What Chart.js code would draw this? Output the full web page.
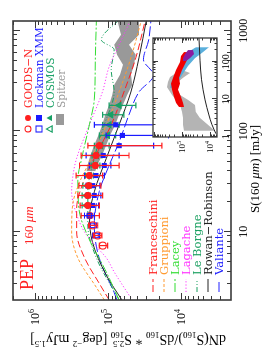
<!DOCTYPE html>
<html>
<head>
<meta charset="utf-8">
<script src="https://cdn.jsdelivr.net/npm/chart.js@4.4.0/dist/chart.umd.min.js"></script>
<style>
  html, body { margin: 0; padding: 0; background: #fff; }
  #wrap { position: relative; width: 264px; height: 353px; overflow: hidden; background: #fff; }
  /* the whole figure is drawn upright, then turned a quarter turn */
  #rot { position: absolute; left: 0; top: 0; width: 353px; height: 264px;
         transform-origin: 0 0; transform: translate(0, 353px) rotate(-90deg); }
  #main { position: absolute; left: 0; top: 0; }
  #inset { position: absolute; left: 185px; top: 145px; }
</style>
</head>
<body>
<div id="wrap"><div id="rot">
  <canvas id="main" width="353" height="264"></canvas>
  <canvas id="inset" width="145" height="92"></canvas>
</div></div>
<script>
// ---------- main panel data: S160 [mJy], Euclidean-normalised counts ----------
const goodsFaintS  = [7.3, 9.2, 11.6];
const goodsFaintN  = [1.19e5, 1.39e5, 1.63e5];
const goodsFaintLo = [1.02e5, 1.22e5, 1.39e5];
const goodsFaintHi = [1.32e5, 1.60e5, 1.85e5];

const lockFaintS  = [9.2, 11.6, 14.5];
const lockFaintN  = [1.47e5, 1.63e5, 1.81e5];
const lockFaintLo = [1.32e5, 1.44e5, 1.55e5];
const lockFaintHi = [1.63e5, 1.81e5, 2.11e5];

const goodsS  = [14.5, 18.3, 23, 28.8, 36.3, 45.7, 57.5, 72];
const goodsN  = [1.77e5, 1.90e5, 1.90e5, 1.85e5, 1.81e5, 1.50e5, 1.47e5, 1.32e5];
const goodsLo = [1.32e5, 1.32e5, 1.19e5, 1.26e5, 1.19e5, 7.1e4, 5.2e4, 1.85e4];
const goodsHi = [2.34e5, 2.42e5, 2.59e5, 2.52e5, 2.74e5, 2.47e5, 2.34e5, 1.90e5];

const lockS  = [18.3, 23, 28.8, 36.3, 45.7, 57.5, 72, 91, 116];
const lockN  = [1.63e5, 1.55e5, 1.63e5, 1.47e5, 1.13e5, 1.17e5, 7.1e4, 6.4e4, 7.9e4];
const lockLo = [1.35e5, 1.26e5, 1.30e5, 1.13e5, 9.2e4, 7.1e4, 2.4e4, 1.5e4, 1.5e4];
const lockHi = [1.90e5, 2.00e5, 2.00e5, 2.11e5, 1.81e5, 2.00e5, 1.32e5, 1.07e5, 1.55e5];

const cosmosS  = [18.3, 23, 28.8, 36.3, 45.7, 57.5, 72, 91, 116, 146, 181];
const cosmosN  = [2.00e5, 2.00e5, 1.94e5, 1.81e5, 1.50e5, 1.44e5, 1.26e5, 1.02e5, 9.7e4, 9.2e4, 7.1e4];
const cosmosLo = [1.77e5, 1.77e5, 1.71e5, 1.60e5, 1.30e5, 1.22e5, 9.7e4, 7.9e4, 7.1e4, 6.1e4, 4.2e4];
const cosmosHi = [2.27e5, 2.27e5, 2.22e5, 2.05e5, 1.71e5, 1.66e5, 1.55e5, 1.32e5, 1.19e5, 1.19e5, 9.7e4];

const spitzerS  = [40, 46, 58, 73, 92, 116, 146, 184, 231, 290, 365, 459, 577, 726, 912, 1300];
const spitzerHi = [1.98e5, 1.92e5, 1.75e5, 1.55e5, 1.36e5, 1.21e5, 1.10e5, 9.7e4, 8.8e4, 8.3e4, 6.9e4, 6.3e4, 7.6e4, 8.3e4, 6.7e4, 7.6e4];
const spitzerLo = [1.50e5, 1.41e5, 1.21e5, 1.06e5, 9.4e4, 8.0e4, 7.1e4, 6.3e4, 5.5e4, 4.7e4, 4.9e4, 4.45e4, 4.2e4, 5.2e4, 3.8e4, 3.8e4];

// models
const franS = [2.1, 3, 5.5, 10, 17, 31, 54, 116, 246, 537, 1290];
const franN = [9.7e4, 1.3e5, 2.1e5, 2.7e5, 2.7e5, 2.2e5, 1.55e5, 9.1e4, 6.1e4, 4.2e4, 3.1e4];
const grupS = [2.1, 2.8, 5.5, 10, 18.6, 31, 54, 116, 246, 537, 1290];
const grupN = [1.13e5, 1.45e5, 2.6e5, 3.16e5, 3.06e5, 2.47e5, 1.7e5, 1.06e5, 7.1e4, 4.9e4, 3.5e4];
const lacS  = [2.1, 4.2, 8.3, 16.5, 33, 54, 116, 206, 515, 1290];
const lacN  = [7.1e4, 1.1e5, 1.8e5, 2.5e5, 2.6e5, 2.3e5, 1.81e5, 1.55e5, 1.5e5, 1.45e5];
const lagS  = [2.2, 4, 5.5, 7.5, 10, 16, 25, 40, 54, 116, 246, 440, 726, 1290];
const lagN  = [4.9e4, 8.3e4, 1.06e5, 1.55e5, 2.11e5, 2.79e5, 3.16e5, 2.97e5, 2.7e5, 1.81e5, 1.2e5, 9.7e4, 7.1e4, 4.9e4];
const lebS  = [2.1, 5.5, 11.7, 25, 54, 116, 246, 410, 650, 810, 1290];
const lebN  = [7.1e4, 1.45e5, 1.9e5, 1.9e5, 1.55e5, 1.13e5, 8.3e4, 9.1e4, 8.3e4, 1.24e5, 7.1e4];
const rrS   = [2.1, 3.7, 8, 13.8, 25, 54, 116, 246, 537, 1290];
const rrN   = [6.5e4, 1.06e5, 1.65e5, 1.8e5, 1.55e5, 1.06e5, 7.1e4, 4.9e4, 3.8e4, 3.0e4];
const valS  = [2.1, 2.5, 5.5, 11.7, 25, 46, 78, 146, 246, 363, 515, 810, 1290];
const valN  = [7.6e4, 8.3e4, 1.33e5, 1.55e5, 1.33e5, 9.7e4, 7.1e4, 5.2e4, 3.8e4, 2.4e4, 3.3e4, 2.8e4, 2.6e4];

const xTicks = [10, 100, 1000];
const yTicks = [1e4, 1e5, 1e6];

// ---------- inset data ----------
const insGrayS  = [1.43, 2.07, 3.2, 4.6, 7, 9.6, 13, 21, 29, 39, 50, 60];
const insGrayHi = [8.5e4, 9.2e4, 9.2e4, 1.0e5, 1.18e5, 1.64e5, 2.28e5, 3.43e5, 3.16e5, 2.68e5, 1.64e5, 1.39e5];
const insGrayLo = [6.6e3, 1.18e4, 2.3e4, 3.2e4, 3.4e4, 6.1e4, 1.18e5, 1.64e5, 1.39e5, 8.5e4, 5.2e4, 1.0e5];
const insBlueS  = [20, 27, 44, 77, 125, 181, 245];
const insBlueHi = [2.68e5, 2.47e5, 1.78e5, 1.28e5, 9.2e4, 6.1e4, 3.16e4];
const insBlueLo = [1.93e5, 1.5e5, 1.0e5, 6.1e4, 3.4e4, 1.78e4, 1.08e4];
const insRedS   = [6.2, 8, 11.5, 18, 26, 37, 60, 98, 142, 181];
const insRedHi  = [1.28e5, 1.64e5, 1.93e5, 2.28e5, 2.47e5, 2.1e5, 1.64e5, 1.18e5, 1.09e5, 8.5e4];
const insRedLo  = [8.5e4, 9.2e4, 1.09e5, 1.39e5, 1.18e5, 1.28e5, 1.0e5, 7.2e4, 5.6e4, 6.1e4];
const insPurpS  = [104, 125, 160, 205];
const insPurpHi = [9.2e4, 9.2e4, 7.8e4, 6.1e4];
const insPurpLo = [7.2e4, 5.2e4, 3.7e4, 4.05e4];
const insCurveS = [1.2, 2.1, 3.8, 9.6, 33, 110, 430];
const insCurveN = [6.1e3, 8.5e3, 1.09e4, 1.5e4, 2.0e4, 2.27e4, 2.47e4];

const insXTicks = [1, 10, 100];
const insYTicks = [1e4, 1e5];

// ---------- legend text ----------
const surveyNames  = ['GOODS\u2212N', 'Lockman XMM', 'COSMOS', 'Spitzer'];
const surveyColors = ['#ff1f1f', '#1a1aff', '#17a065', '#9a9a9a'];
const surveyShapes = ['circle', 'rect', 'triangle', null];
const modelNames  = ['Franceschini', 'Gruppioni', 'Lacey', 'Lagache', 'Le Borgne', 'Rowan\u2212Robinson', 'Valiante'];
const modelColors = ['#ff2020', '#ff9a30', '#33dd33', '#ff33ff', '#1aa060', '#222222', '#2020ff'];
const modelDashes = [[7, 3], [3, 2], [9, 2, 2, 2], [1.2, 2], [5, 2, 1, 2, 1, 2], [], [10, 3]];

const FRAME = '#3a3a3a';
const pts = (s, n) => s.map((v, i) => ({ x: v, y: n[i] }));

function logTicks(min, max) {
  const out = [];
  for (let e = Math.floor(Math.log10(min)); e <= Math.ceil(Math.log10(max)); e++) {
    for (let m = 1; m < 10; m++) {
      const v = m * Math.pow(10, e);
      if (v >= min * 0.999 && v <= max * 1.001) out.push([v, m === 1]);
    }
  }
  return out;
}

function drawFrame(chart, major, minor, lw) {
  const { ctx, chartArea: a, scales: { x, y } } = chart;
  ctx.save();
  ctx.strokeStyle = FRAME;
  ctx.lineWidth = 1;
  ctx.beginPath();
  for (const [v, big] of logTicks(x.min, x.max)) {
    const px = Math.round(x.getPixelForValue(v)) + 0.5;
    const l = big ? major : minor;
    ctx.moveTo(px, a.bottom); ctx.lineTo(px, a.bottom - l);
    ctx.moveTo(px, a.top); ctx.lineTo(px, a.top + l);
  }
  for (const [v, big] of logTicks(y.min, y.max)) {
    const py = Math.round(y.getPixelForValue(v)) + 0.5;
    const l = big ? major : minor;
    ctx.moveTo(a.left, py); ctx.lineTo(a.left + l, py);
    ctx.moveTo(a.right, py); ctx.lineTo(a.right - l, py);
  }
  ctx.stroke();
  ctx.lineWidth = lw;
  ctx.strokeRect(a.left, a.top, a.right - a.left, a.bottom - a.top);
  ctx.restore();
}

// rich text: pieces with size, baseline shift, italic, and stacked sub/sup
const fontOf = p => `${p.it ? 'italic ' : ''}${p.s}px "Liberation Serif"`;
function richWidth(ctx, parts) {
  let w = 0, hold = 0;
  for (const p of parts) {
    ctx.font = fontOf(p);
    const pw = ctx.measureText(p.t).width;
    if (p.stack) { hold = pw; continue; }
    w += Math.max(pw, hold); hold = 0;
  }
  return w;
}
function drawRich(ctx, parts, x, y) {
  let cx = x, hold = 0;
  for (const p of parts) {
    ctx.font = fontOf(p);
    const pw = ctx.measureText(p.t).width;
    ctx.fillText(p.t, cx, y + (p.dy || 0));
    if (p.stack) { hold = pw; continue; }
    cx += Math.max(pw, hold); hold = 0;
  }
}
function powLabel(ctx, v, x, y, base, sup, align) {
  const parts = [{ t: '10', s: base }, { t: String(Math.round(Math.log10(v))), s: sup, dy: -base * 0.42 }];
  const w = richWidth(ctx, parts);
  drawRich(ctx, parts, align === 'right' ? x - w : x - w / 2, y);
}

function marker(ctx, shape, x, y, r, color, filled) {
  ctx.save();
  ctx.strokeStyle = color; ctx.fillStyle = color; ctx.lineWidth = 1.1;
  ctx.beginPath();
  if (shape === 'circle') ctx.arc(x, y, r, 0, Math.PI * 2);
  else if (shape === 'rect') ctx.rect(x - r, y - r, 2 * r, 2 * r);
  else { ctx.moveTo(x, y - r * 1.2); ctx.lineTo(x + r * 1.05, y + r * 0.7); ctx.lineTo(x - r * 1.05, y + r * 0.7); ctx.closePath(); }
  filled ? ctx.fill() : ctx.stroke();
  ctx.restore();
}

// error bars drawn just before each point set, so markers sit on top
const errorBars = {
  id: 'errorBars',
  beforeDatasetDraw(chart, args) {
    const ds = chart.data.datasets[args.index];
    if (!ds.errLo) return;
    const { ctx, chartArea: a, scales: { x, y } } = chart;
    ctx.save();
    ctx.beginPath(); ctx.rect(a.left, a.top, a.right - a.left, a.bottom - a.top); ctx.clip();
    ctx.strokeStyle = ds.borderColor; ctx.lineWidth = 1.2;
    ctx.beginPath();
    ds.data.forEach((p, i) => {
      const px = x.getPixelForValue(p.x);
      const y1 = y.getPixelForValue(ds.errLo[i]), y2 = y.getPixelForValue(ds.errHi[i]);
      ctx.moveTo(px, y1); ctx.lineTo(px, y2);
      ctx.moveTo(px - 3, y1); ctx.lineTo(px + 3, y1);
      ctx.moveTo(px - 3, y2); ctx.lineTo(px + 3, y2);
    });
    ctx.stroke();
    ctx.restore();
  }
};

const mainDecor = {
  id: 'mainDecor',
  afterDraw(chart) {
    const { ctx, chartArea: a, scales: { x, y } } = chart;
    drawFrame(chart, 7, 4, 1.6);
    ctx.save();
    ctx.fillStyle = '#000';
    ctx.textBaseline = 'alphabetic';
    ctx.font = '12px "Liberation Serif"';
    ctx.textAlign = 'center';
    xTicks.forEach(v => ctx.fillText(String(v), x.getPixelForValue(v), a.bottom + 16));
    ctx.textAlign = 'left';
    yTicks.forEach(v => powLabel(ctx, v, a.left - 9, y.getPixelForValue(v) + 4, 12, 8, 'right'));

    // axis titles
    const xt = [{ t: 'S(160 ', s: 13 }, { t: '\u03bcm', s: 13, it: true }, { t: ') [mJy]', s: 13 }];
    drawRich(ctx, xt, 184 - richWidth(ctx, xt) / 2, 259);
    const yt = [
      { t: 'dN(S', s: 14 }, { t: '160', s: 9, dy: 3 }, { t: ')/dS', s: 14 }, { t: '160', s: 9, dy: 3 },
      { t: ' * S', s: 14 }, { t: '2.5', s: 9, dy: -6, stack: true }, { t: '160', s: 9, dy: 3 },
      { t: ' [deg', s: 14 }, { t: '\u22122', s: 9, dy: -6 }, { t: ' mJy', s: 14 }, { t: '1.5', s: 9, dy: -6 }, { t: ']', s: 14 }
    ];
    ctx.save();
    ctx.translate(18, 128);
    ctx.rotate(-Math.PI / 2);
    drawRich(ctx, yt, -richWidth(ctx, yt) / 2, 0);
    ctx.restore();

    // PEP label
    ctx.fillStyle = '#ff2020';
    drawRich(ctx, [{ t: 'PEP', s: 18 }], 63, 33);
    drawRich(ctx, [{ t: '160 ', s: 13 }, { t: '\u03bcm', s: 13, it: true }], 108, 33);

    // survey legend
    surveyNames.forEach((name, i) => {
      const bl = 32 + 11 * i, c = surveyColors[i];
      if (surveyShapes[i]) {
        marker(ctx, surveyShapes[i], 224, bl - 4, 3, c, false);
        marker(ctx, surveyShapes[i], 235, bl - 4, 3, c, true);
      } else {
        ctx.fillStyle = c;
        ctx.fillRect(228, bl - 9, 11, 8);
      }
      ctx.fillStyle = c;
      ctx.font = '10.5px "DejaVu Serif"';
      ctx.fillText(name, 245, bl);
    });

    // model legend
    modelNames.forEach((name, i) => {
      const bl = 157 + 11 * i;
      ctx.strokeStyle = modelColors[i]; ctx.lineWidth = 1;
      ctx.setLineDash(modelDashes[i]);
      ctx.beginPath(); ctx.moveTo(61, bl - 4); ctx.lineTo(74, bl - 4); ctx.stroke();
      ctx.setLineDash([]);
      ctx.fillStyle = modelColors[i];
      ctx.font = '11.5px "DejaVu Serif"';
      ctx.fillText(name, 78, bl);
    });
    ctx.restore();
  }
};

const model = (s, n, i) => ({
  data: pts(s, n), borderColor: modelColors[i], borderWidth: 1, borderDash: modelDashes[i],
  pointRadius: 0, fill: false, cubicInterpolationMode: 'monotone', order: 5
});
const points = (s, n, lo, hi, color, style, filled, r) => ({
  data: pts(s, n), errLo: lo, errHi: hi, showLine: false, borderColor: color,
  pointStyle: style, pointRadius: r, pointBorderWidth: 1.1, pointBorderColor: color,
  pointBackgroundColor: filled ? color : 'rgba(0,0,0,0)', order: 0
});

new Chart(document.getElementById('main'), {
  type: 'line',
  data: {
    datasets: [
      { data: pts(spitzerS, spitzerHi), borderColor: 'transparent', borderWidth: 0, pointRadius: 0, fill: false, order: 10 },
      { data: pts(spitzerS, spitzerLo), borderColor: 'transparent', borderWidth: 0, pointRadius: 0, fill: '-1', backgroundColor: '#999999', order: 10 },
      model(franS, franN, 0), model(grupS, grupN, 1), model(lacS, lacN, 2), model(lagS, lagN, 3),
      model(lebS, lebN, 4), model(rrS, rrN, 5), model(valS, valN, 6),
      points(goodsFaintS, goodsFaintN, goodsFaintLo, goodsFaintHi, '#ff1f1f', 'circle', false, 3.5),
      points(lockFaintS, lockFaintN, lockFaintLo, lockFaintHi, '#1a1aff', 'rect', false, 3.2),
      points(goodsS, goodsN, goodsLo, goodsHi, '#ff1f1f', 'circle', true, 3),
      points(lockS, lockN, lockLo, lockHi, '#1a1aff', 'rect', true, 2.8),
      points(cosmosS, cosmosN, cosmosLo, cosmosHi, '#17a065', 'triangle', true, 3.5)
    ]
  },
  options: {
    responsive: false,
    animation: false,
    layout: { padding: { left: 0, top: 13, right: 21, bottom: 0 } },
    plugins: { legend: { display: false }, tooltip: { enabled: false } },
    scales: {
      x: { type: 'logarithmic', min: 2.1, max: 1250, grid: { display: false }, border: { display: false },
           ticks: { display: false }, afterFit: s => { s.height = 33; } },
      y: { type: 'logarithmic', min: 2100, max: 2e6, grid: { display: false }, border: { display: false },
           ticks: { display: false }, afterFit: s => { s.width = 53; } }
    }
  },
  plugins: [errorBars, mainDecor]
});

// ---------- inset ----------
const insetDecor = {
  id: 'insetDecor',
  beforeDraw(chart) {
    const { ctx, chartArea: a } = chart;
    ctx.save(); ctx.fillStyle = '#fff';
    ctx.fillRect(a.left, a.top, a.right - a.left, a.bottom - a.top);
    ctx.restore();
  },
  afterDraw(chart) {
    const { ctx, chartArea: a, scales: { x, y } } = chart;
    drawFrame(chart, 5, 2.5, 1.3);
    ctx.save();
    ctx.fillStyle = '#000';
    ctx.font = '10px "Liberation Serif"';
    ctx.textAlign = 'center';
    insXTicks.forEach(v => ctx.fillText(String(v), x.getPixelForValue(v), a.bottom + 12));
    ctx.textAlign = 'left';
    insYTicks.forEach(v => powLabel(ctx, v, a.left - 4, y.getPixelForValue(v) + 3, 9, 6, 'right'));
    ctx.restore();
  }
};
const band = (s, hi, lo, color, order) => [
  { data: pts(s, hi), borderColor: 'transparent', borderWidth: 0, pointRadius: 0, fill: false, order },
  { data: pts(s, lo), borderColor: 'transparent', borderWidth: 0, pointRadius: 0, fill: '-1', backgroundColor: color, order }
];

new Chart(document.getElementById('inset'), {
  type: 'line',
  data: {
    datasets: [
      ...band(insGrayS, insGrayHi, insGrayLo, '#b4b4b4', 4),
      ...band(insBlueS, insBlueHi, insBlueLo, '#5aafdc', 3),
      ...band(insRedS, insRedHi, insRedLo, '#f00000', 2),
      ...band(insPurpS, insPurpHi, insPurpLo, '#8a1aa0', 1),
      { data: pts(insCurveS, insCurveN), borderColor: '#222', borderWidth: 1, pointRadius: 0,
        fill: false, cubicInterpolationMode: 'monotone', order: 0 }
    ]
  },
  options: {
    responsive: false,
    animation: false,
    layout: { padding: { left: 0, top: 8, right: 15, bottom: 0 } },
    plugins: { legend: { display: false }, tooltip: { enabled: false } },
    scales: {
      x: { type: 'logarithmic', min: 0.98, max: 430, grid: { display: false }, border: { display: false },
           ticks: { display: false }, afterFit: s => { s.height = 20; } },
      y: { type: 'logarithmic', min: 5600, max: 1.09e6, grid: { display: false }, border: { display: false },
           ticks: { display: false }, afterFit: s => { s.width = 31; } }
    }
  },
  plugins: [insetDecor]
});
</script>
</body>
</html>
